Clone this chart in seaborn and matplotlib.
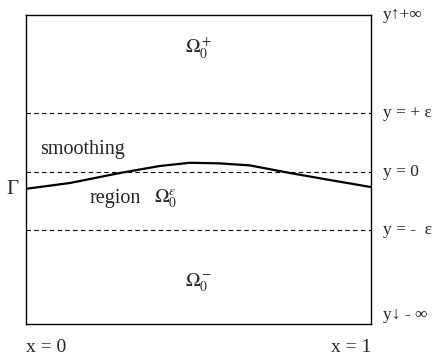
import matplotlib
matplotlib.use("Agg")
import matplotlib.pyplot as plt
import seaborn as sns
import pandas as pd

# Interface curve Gamma (x in [0, 1], y in units of epsilon)
curve_x = [0.0, 0.128, 0.272, 0.388, 0.475, 0.56, 0.649, 0.765, 0.881, 1.0]
curve_y = [-0.29, -0.19, -0.02, 0.10, 0.155, 0.145, 0.11, -0.02, -0.14, -0.26]

# Horizontal reference levels (dashed)
levels = [1.0, 0.0, -1.0]
level_labels = ["y = + ε", "y = 0", "y = -  ε"]

y_top, y_bottom = 2.68, -2.6

sns.set_theme(style="white")
plt.rcParams["font.family"] = ["Liberation Serif", "DejaVu Serif"]
plt.rcParams["mathtext.fontset"] = "stix"

fig = plt.figure(figsize=(4.38, 3.56), dpi=100)
ax = fig.add_axes([26 / 438, 1 - 324 / 356, 345 / 438, 309 / 356])

df = pd.DataFrame({"x": curve_x, "y": curve_y})
sns.lineplot(data=df, x="x", y="y", ax=ax, color="black", linewidth=1.6, sort=True)

for lv in levels:
    ax.axhline(lv, color="black", linestyle=(0, (4, 3)), linewidth=0.8)

ax.set_xlim(0, 1)
ax.set_ylim(y_bottom, y_top)
ax.set_xticks([])
ax.set_yticks([])
ax.set_xlabel("")
ax.set_ylabel("")
for s in ax.spines.values():
    s.set_color("black")
    s.set_linewidth(1.0)

# region labels
ax.text(0.5, 2.12, r"$\Omega_0^+$", ha="center", va="center", fontsize=14)
ax.text(0.5, -1.9, r"$\Omega_0^-$", ha="center", va="center", fontsize=14)
ax.text(0.04, 0.38, "smoothing", ha="left", va="center", fontsize=14.5)
ax.text(0.185, -0.45, "region", ha="left", va="center", fontsize=14.5)
ax.text(0.372, -0.45, r"$\Omega_0^\varepsilon$", ha="left", va="center", fontsize=14)
ax.text(-0.038, -0.3, "Γ", ha="center", va="center", fontsize=15)

# right-hand labels
ax.text(1.035, y_top, "y↑+∞", ha="left", va="center", fontsize=12.5)
for lv, lab in zip(levels, level_labels):
    ax.text(1.035, lv, lab, ha="left", va="center", fontsize=12.5)
ax.text(1.035, -2.45, "y↓ - ∞", ha="left", va="center", fontsize=12.5)

# bottom labels
ax.text(0.0, -0.075, "x = 0", transform=ax.transAxes, ha="left", va="center", fontsize=14)
ax.text(1.0, -0.075, "x = 1", transform=ax.transAxes, ha="right", va="center", fontsize=14)

fig.savefig("out.png", dpi=100)
